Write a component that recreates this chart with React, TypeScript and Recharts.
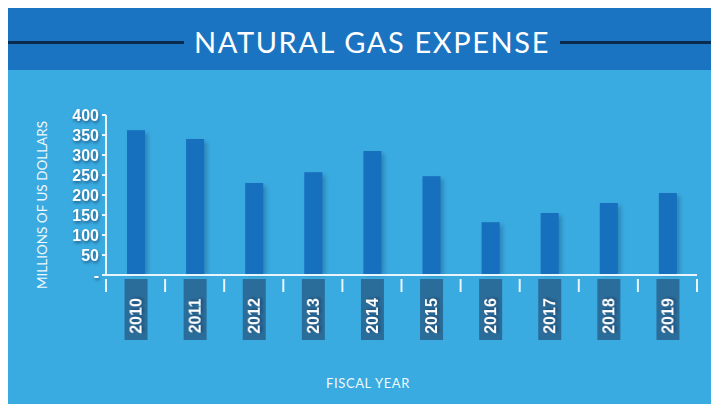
import React from 'react';
import { BarChart, Bar, XAxis, YAxis, Label } from 'recharts';

const years = ['2010', '2011', '2012', '2013', '2014', '2015', '2016', '2017', '2018', '2019'];
const expense = [362, 340, 230, 257, 310, 247, 132, 155, 180, 205];
const yTicks = [0, 50, 100, 150, 200, 250, 300, 350, 400];

const data = years.map((y, i) => ({ year: y, expense: expense[i] }));

const W = 711;
const H = 396;
const M = { top: 107, right: 22, bottom: 59, left: 0 };
const Y_W = 98;
const BAND = (W - M.right - M.left - Y_W) / years.length;

const AXIS = '#e9f5fc';
const SHADOW = 'drop-shadow(1px 2px 1.5px rgba(10,40,80,0.55))';

function YearTick(props: any) {
  const { x, y, payload, index } = props;
  return (
    <g>
      <line x1={x - BAND / 2} y1={y - 4} x2={x - BAND / 2} y2={y + 9} stroke={AXIS} strokeWidth={2} />
      {index === years.length - 1 && (
        <line x1={x + BAND / 2} y1={y - 4} x2={x + BAND / 2} y2={y + 9} stroke={AXIS} strokeWidth={2} />
      )}
      <rect x={x - 11} y={y - 4} width={23} height={61} fill="#2b6d9a" />
      <text
        x={0}
        y={0}
        transform={`translate(${x + 6},${y + 33}) rotate(-90)`}
        textAnchor="middle"
        fill="#ffffff"
        fontSize={16}
        fontWeight="bold"
        fontFamily="Liberation Sans, Arial, sans-serif"
        style={{ filter: SHADOW }}
      >
        {payload.value}
      </text>
    </g>
  );
}

function BarShape(props: any) {
  const { x, y, width, height, fill } = props;
  return (
    <g>
      <rect x={x + 3} y={y + 3} width={width} height={height - 3} fill="rgba(20,60,110,0.35)" style={{ filter: 'blur(2px)' }} />
      <rect x={x} y={y} width={width} height={height} fill={fill} />
    </g>
  );
}

export default function App() {
  return (
    <div style={{ position: 'relative', width: W, height: H, background: '#3aabe0', overflow: 'hidden' }}>
      {/* header band */}
      <div style={{ position: 'absolute', left: 0, top: 0, width: W, height: 62, background: '#1a74c2' }}>
        <div style={{ position: 'absolute', left: 0, top: 33, width: 176, height: 3, background: '#0c2a4c' }} />
        <div style={{ position: 'absolute', left: 552, top: 33, width: 160, height: 3, background: '#0c2a4c' }} />
        <div
          style={{
            position: 'absolute',
            left: 176,
            width: 376,
            top: 15,
            textAlign: 'center',
            color: '#ffffff',
            fontFamily: 'Lato, "Open Sans", sans-serif',
            fontSize: 29,
            letterSpacing: 1.6,
            lineHeight: '38px',
          }}
        >
          NATURAL GAS EXPENSE
        </div>
      </div>

      <div style={{ position: 'absolute', left: 0, top: 0 }}>
        <BarChart width={W} height={H} data={data} margin={M} barSize={18}>
          <XAxis
            dataKey="year"
            height={70}
            stroke={AXIS}
            strokeWidth={2}
            tickLine={false}
            interval={0}
            tick={<YearTick />}
          >
            <Label
              content={() => (
                <text
                  x={360}
                  y={380}
                  textAnchor="middle"
                  fill="#eef8fd"
                  fontSize={13}
                  letterSpacing={0.6}
                  fontFamily="Lato, sans-serif"
                >
                  FISCAL YEAR
                </text>
              )}
            />
          </XAxis>
          <YAxis
            width={Y_W}
            domain={[0, 400]}
            ticks={yTicks}
            interval={0}
            stroke={AXIS}
            strokeWidth={2}
            tickSize={4}
            tickMargin={3}
            tickFormatter={(v: number) => (v === 0 ? '-' : String(v))}
            tick={{
              fill: '#ffffff',
              fontSize: 16,
              fontWeight: 'bold',
              fontFamily: 'Liberation Sans, Arial, sans-serif',
              style: { filter: SHADOW },
            }}
          >
            <Label
              content={() => (
                <text
                  x={0}
                  y={0}
                  transform="translate(39,197) rotate(-90)"
                  textAnchor="middle"
                  fill="#eef8fd"
                  fontSize={13.5}
                  fontFamily="Lato, sans-serif"
                >
                  MILLIONS OF US DOLLARS
                </text>
              )}
            />
          </YAxis>
          <Bar dataKey="expense" fill="#1670bd" shape={<BarShape />} isAnimationActive={false} />
        </BarChart>
      </div>
    </div>
  );
}
